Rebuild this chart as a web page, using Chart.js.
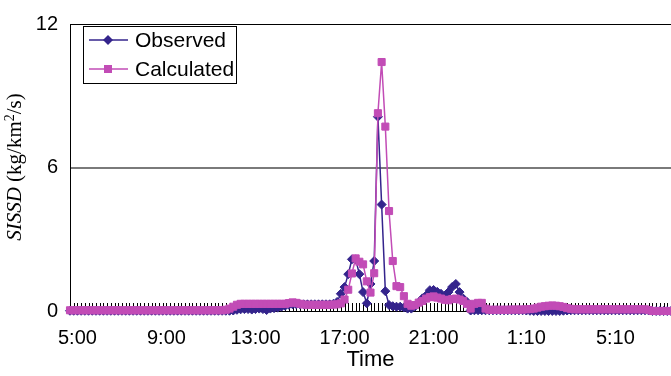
<!DOCTYPE html>
<html>
<head>
<meta charset="utf-8">
<script src="https://cdn.jsdelivr.net/npm/chart.js@4.4.0/dist/chart.umd.min.js"></script>
<style>
  body { margin: 0; background: #fff; }
</style>
</head>
<body>
<canvas id="myChart" width="671" height="376"></canvas>
<script>
// categories: 10 minute readings, first one at 4:40
const times = [];
for (let k = 0, m = 4 * 60 + 40; k < 163; k++, m += 10) {
  const mm = m % (24 * 60);
  times.push(Math.floor(mm / 60) + ':' + String(mm % 60).padStart(2, '0'));
}
const tickLabels = ['5:00', '9:00', '13:00', '17:00', '21:00', '1:10', '5:10'];

// walk the times in order so each tick label lands on its own day
const shown = {};
for (let i = 0, p = 0; i < times.length && p < tickLabels.length; i++) {
  if (times[i] === tickLabels[p]) { shown[i] = true; p++; }
}

const observed = [
  0.01, 0.01, 0.01, 0.01, 0.01, 0.01, 0.01, 0.01, 0.01, 0.01,
  0.01, 0.01, 0.01, 0.01, 0.01, 0.01, 0.01, 0.01, 0.01, 0.01,
  0.01, 0.01, 0.01, 0.01, 0.01, 0.01, 0.01, 0.01, 0.01, 0.01,
  0.01, 0.01, 0.01, 0.01, 0.01, 0.01, 0.01, 0.01, 0.01, 0.01,
  0.01, 0.01, 0.01, 0.01, 0.02, 0.05, 0.07, 0.08, 0.08, 0.06,
  0.08, 0.10, 0.08, 0.04, 0.10, 0.12, 0.14, 0.18, 0.22, 0.26,
  0.28, 0.28, 0.28, 0.28, 0.28, 0.28, 0.28, 0.28, 0.28, 0.28,
  0.28, 0.30, 0.38, 0.72, 1.00, 1.54, 2.16, 2.16, 1.54, 0.79,
  0.32, 1.13, 2.09, 8.12, 4.45, 0.83, 0.25, 0.20, 0.18, 0.18,
  0.15, 0.10, 0.10, 0.20, 0.35, 0.53, 0.65, 0.87, 0.88, 0.80,
  0.72, 0.59, 0.79, 1.00, 1.13, 0.79, 0.52, 0.38, 0.02, 0.03,
  0.03, 0.03, 0.03, 0.03, 0.03, 0.03, 0.03, 0.03, 0.03, 0.03,
  0.03, 0.03, 0.03, 0.02, 0.01, 0.00, 0.00, 0.00, 0.00, 0.00,
  0.00, 0.00, 0.00, 0.01, 0.02, 0.03, 0.03, 0.03, 0.03, 0.03,
  0.03, 0.03, 0.03, 0.03, 0.03, 0.03, 0.03, 0.03, 0.03, 0.03,
  0.03, 0.03, 0.03, 0.03, 0.03, 0.03, 0.02, 0.00, 0.00, 0.00,
  0.00, 0.00, 0.00
];

const calculated = [
  0.03, 0.03, 0.03, 0.03, 0.03, 0.03, 0.03, 0.03, 0.03, 0.03,
  0.03, 0.03, 0.03, 0.03, 0.03, 0.03, 0.03, 0.03, 0.03, 0.03,
  0.03, 0.03, 0.03, 0.03, 0.03, 0.03, 0.03, 0.03, 0.03, 0.03,
  0.03, 0.03, 0.03, 0.03, 0.03, 0.03, 0.03, 0.03, 0.03, 0.03,
  0.03, 0.03, 0.05, 0.10, 0.18, 0.26, 0.30, 0.30, 0.30, 0.30,
  0.30, 0.30, 0.30, 0.30, 0.30, 0.30, 0.30, 0.30, 0.30, 0.33,
  0.36, 0.34, 0.30, 0.27, 0.26, 0.26, 0.26, 0.26, 0.26, 0.26,
  0.26, 0.27, 0.28, 0.32, 0.48, 0.89, 1.57, 2.20, 2.06, 1.95,
  1.24, 0.77, 1.58, 8.27, 10.41, 7.71, 4.18, 2.09, 1.04, 1.00,
  0.62, 0.30, 0.22, 0.25, 0.35, 0.42, 0.52, 0.58, 0.61, 0.56,
  0.52, 0.47, 0.45, 0.50, 0.52, 0.48, 0.42, 0.30, 0.10, 0.30,
  0.34, 0.34, 0.10, 0.05, 0.05, 0.05, 0.05, 0.05, 0.05, 0.06,
  0.06, 0.06, 0.06, 0.07, 0.08, 0.10, 0.14, 0.18, 0.20, 0.22,
  0.23, 0.22, 0.20, 0.17, 0.12, 0.09, 0.07, 0.07, 0.07, 0.07,
  0.07, 0.07, 0.07, 0.07, 0.07, 0.07, 0.07, 0.07, 0.07, 0.07,
  0.07, 0.07, 0.07, 0.07, 0.07, 0.07, 0.04, 0.00, 0.00, 0.00,
  0.00, 0.00, 0.00
];

const navy = '#34248c';
const pink = '#c24cb6';
const sans = 'Liberation Sans';
const serif = 'Liberation Serif';

// little upward marks on the time axis, one per reading
const axisMarks = {
  id: 'axisMarks',
  beforeDatasetsDraw(chart) {
    const ctx = chart.ctx;
    const xs = chart.scales.x;
    const bottom = chart.chartArea.bottom;
    ctx.save();
    ctx.strokeStyle = '#000';
    ctx.lineWidth = 1;
    ctx.beginPath();
    for (let i = 0; i < times.length; i++) {
      const px = Math.round(xs.getPixelForValue(i)) + 0.5;
      ctx.moveTo(px, bottom);
      ctx.lineTo(px, bottom - 8);
    }
    ctx.stroke();
    ctx.restore();
  }
};

// y title has an italic part and a superscript, so draw it by hand
const yTitle = {
  id: 'yTitle',
  afterDraw(chart) {
    const ctx = chart.ctx;
    const parts = [
      { t: 'SISSD', f: 'italic 21px "' + serif + '"', dy: 0 },
      { t: ' (kg/km', f: '21px "' + serif + '"', dy: 0 },
      { t: '2', f: '14px "' + serif + '"', dy: -7 },
      { t: '/s)', f: '21px "' + serif + '"', dy: 0 }
    ];
    let total = 0;
    parts.forEach(p => { ctx.font = p.f; p.w = ctx.measureText(p.t).width; total += p.w; });
    ctx.save();
    ctx.translate(21, 167);
    ctx.rotate(-Math.PI / 2);
    ctx.fillStyle = '#000';
    ctx.textBaseline = 'alphabetic';
    let x = -total / 2;
    parts.forEach(p => { ctx.font = p.f; ctx.fillText(p.t, x, p.dy); x += p.w; });
    ctx.restore();
  }
};

const legendBox = {
  id: 'legendBox',
  afterDraw(chart) {
    const ctx = chart.ctx;
    ctx.save();
    ctx.fillStyle = '#fff';
    ctx.fillRect(83, 26, 153, 57);
    ctx.strokeStyle = '#000';
    ctx.lineWidth = 1;
    ctx.strokeRect(83.5, 26.5, 153, 57);
    chart.data.datasets.forEach((ds, i) => {
      const y = 40 + i * 29;
      ctx.strokeStyle = ds.borderColor;
      ctx.lineWidth = 1.5;
      ctx.beginPath();
      ctx.moveTo(89, y);
      ctx.lineTo(128, y);
      ctx.stroke();
      ctx.fillStyle = ds.borderColor;
      ctx.beginPath();
      if (ds.pointStyle === 'rectRot') {
        ctx.moveTo(108, y - 5);
        ctx.lineTo(113, y);
        ctx.lineTo(108, y + 5);
        ctx.lineTo(103, y);
        ctx.closePath();
      } else {
        ctx.rect(104, y - 4, 8, 8);
      }
      ctx.fill();
      ctx.fillStyle = '#000';
      ctx.font = '21px "' + sans + '"';
      ctx.textBaseline = 'middle';
      ctx.fillText(ds.label, 135, y + 1);
    });
    ctx.restore();
  }
};

const ctx = document.getElementById('myChart').getContext('2d');
new Chart(ctx, {
  type: 'line',
  data: {
    labels: times,
    datasets: [
      {
        label: 'Observed',
        data: observed,
        borderColor: navy,
        backgroundColor: navy,
        borderWidth: 1.5,
        pointStyle: 'rectRot',
        pointRadius: 4.5,
        pointBorderWidth: 1,
        pointBackgroundColor: navy,
        pointBorderColor: navy,
        clip: false,
        order: 1
      },
      {
        label: 'Calculated',
        data: calculated,
        borderColor: pink,
        backgroundColor: pink,
        borderWidth: 1.5,
        pointStyle: 'rect',
        pointRadius: 5,
        pointBorderWidth: 1,
        pointBackgroundColor: pink,
        pointBorderColor: pink,
        clip: false,
        order: 0
      }
    ]
  },
  options: {
    responsive: false,
    animation: false,
    devicePixelRatio: 1,
    layout: { autoPadding: false, padding: { top: 18, right: 0, bottom: 0, left: 0 } },
    plugins: {
      legend: { display: false },
      tooltip: { enabled: false }
    },
    scales: {
      x: {
        type: 'category',
        offset: false,
        grid: { display: false },
        border: { display: true, color: '#000', width: 1 },
        ticks: {
          autoSkip: false,
          maxRotation: 0,
          minRotation: 0,
          padding: 7,
          color: '#000',
          font: { family: sans, size: 20 },
          callback: function (val, i) {
            return shown[i] ? times[i] : '';
          }
        },
        title: {
          display: true,
          text: 'Time',
          color: '#000',
          font: { family: sans, size: 22 },
          padding: { top: 0, bottom: 3 }
        },
        afterFit: s => {
          s.height = 65;
          // the plot runs right to the edge of the picture
          s.paddingLeft = 0;
          s.paddingRight = 0;
        }
      },
      y: {
        min: 0,
        max: 12,
        ticks: {
          stepSize: 6,
          padding: 12,
          color: '#000',
          font: { family: sans, size: 20 }
        },
        grid: {
          drawTicks: false,
          color: c => c.tick.value === 6 ? '#7a7a7a' : (c.tick.value === 12 ? '#000' : 'rgba(0,0,0,0)'),
          lineWidth: c => c.tick.value === 6 ? 2 : 1
        },
        border: { display: true, color: '#000', width: 1 },
        afterFit: s => { s.width = 70; }
      }
    }
  },
  plugins: [axisMarks, yTitle, legendBox]
});
</script>
</body>
</html>
